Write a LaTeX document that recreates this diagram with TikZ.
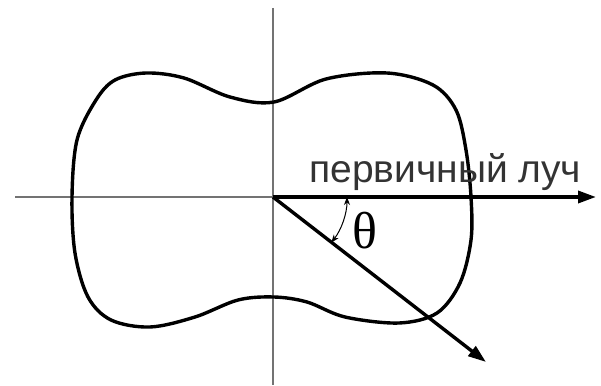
\documentclass[tikz,border=0pt]{standalone}
\usepackage{fontspec}
\setmainfont{Liberation Sans}
\newfontfamily\thetafont{Liberation Serif}
\usetikzlibrary{arrows.meta}
\begin{document}
\begin{tikzpicture}[x=1pt,y=-1pt,
  axisline/.style={draw=black!55,line width=1.3pt},
  thickline/.style={draw=black,line width=3.4pt},
  rayarrow/.style={thickline,-{Triangle[length=18pt,width=12pt]}},
  anglemark/.style={draw=black,line width=1pt,{Stealth[length=8pt,width=6pt]}-{Stealth[length=8pt,width=6pt]}},
  lbl/.style={inner sep=0pt,anchor=base west,font=\fontsize{39}{44}\selectfont\color{black!80}}]
\useasboundingbox (0,0) rectangle (601,385);
\coordinate (O) at (273,197);
\coordinate (L) at (15,197);
\coordinate (R) at (596,197);
\coordinate (T) at (273,8);
\coordinate (B) at (273,385);
\coordinate (E) at (486,362);
% axes
\draw[axisline] (L) -- (O);
\draw[axisline] (T) -- (B);
% outline
\draw[thickline,line join=round] plot[smooth cycle,tension=0.55] coordinates {
 (274,102) (326,79) (387,73) (433,85) (456,110) (466,150) (471,197)
 (471,240) (460,283) (437,313) (399,323) (345,317) (307,302) (274,297)
 (238,300) (195,317) (150,327) (111,320) (88,297) (75,253) (72,197)
 (77,140) (96,100) (115,80) (146,73) (184,78) (230,97)};
% rays
\draw[rayarrow] (O) -- (R);
\draw[rayarrow] (O) -- (E);
% angle
\draw[anglemark] ([shift={(0:74)}]O) arc[start angle=0,end angle=38,radius=74];
\node[inner sep=0pt,font=\thetafont\fontsize{52}{56}\selectfont] (th) at (365,231) {θ};
\node[lbl] (lab) at (309,182) {первичный луч};
\end{tikzpicture}
\end{document}
